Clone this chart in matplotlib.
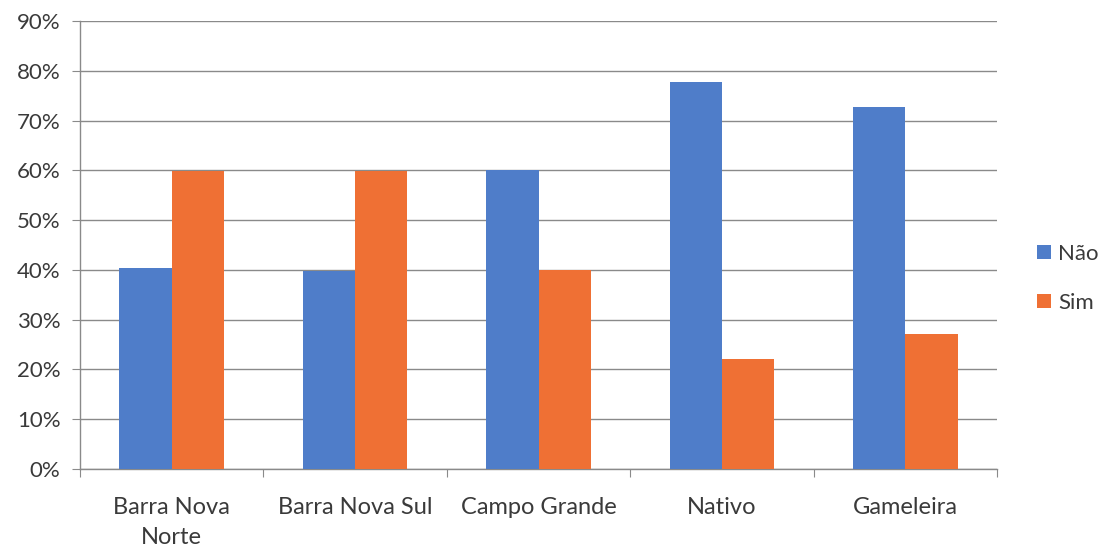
import matplotlib
matplotlib.use("Agg")
import matplotlib.pyplot as plt
import numpy as np
from matplotlib.ticker import FuncFormatter, FixedLocator

categories = ["Barra Nova\nNorte", "Barra Nova Sul", "Campo Grande", "Nativo", "Gameleira"]
nao = [40.3, 39.8, 60.0, 77.7, 72.8]
sim = [59.9, 59.8, 39.9, 22.0, 27.1]
series_names = ["Não", "Sim"]
yticks = [0, 10, 20, 30, 40, 50, 60, 70, 80, 90]

blue = "#4F7DC9"
orange = "#EF7034"
text_color = "#3a3a3a"
plt.rcParams['font.family'] = ['Lato', 'DejaVu Sans']

fig = plt.figure(figsize=(11.07, 5.48), dpi=100)
ax = fig.add_axes([80/1107, 1-469/548, (997-80)/1107, (469-21)/548])

x = np.arange(len(categories))
w = 0.285
ax.bar(x - w/2, nao, width=w, color=blue, label=series_names[0], zorder=3)
ax.bar(x + w/2, sim, width=w, color=orange, label=series_names[1], zorder=3)

ax.set_xlim(-0.5, len(categories) - 0.5)
ax.set_ylim(0, 90)
ax.set_yticks(yticks)
ax.yaxis.set_major_formatter(FuncFormatter(lambda v, p: f"{int(v)}%"))
ax.grid(axis='y', color='#8a8a8a', linewidth=1.0, zorder=0)

ax.xaxis.set_major_locator(FixedLocator(np.arange(-0.5, len(categories), 1.0)))
ax.xaxis.set_major_formatter(FuncFormatter(lambda v, p: ""))
ax.xaxis.set_minor_locator(FixedLocator(x))
ax.set_xticklabels(categories, minor=True, linespacing=1.55)
ax.tick_params(axis='x', which='minor', length=0, pad=20, labelsize=17, labelcolor=text_color)
ax.tick_params(axis='x', which='major', length=6, color='#8a8a8a', direction='out')
ax.tick_params(axis='y', length=6, color='#8a8a8a', labelsize=16, labelcolor=text_color, pad=8)

for s in ['top', 'right']:
    ax.spines[s].set_visible(False)
for s in ['left', 'bottom']:
    ax.spines[s].set_color('#8a8a8a')
    ax.spines[s].set_linewidth(1.0)

leg = ax.legend(loc='center left', bbox_to_anchor=(1.022, 0.426), frameon=False,
                fontsize=16, handlelength=0.6, handleheight=0.6, labelspacing=1.3,
                handletextpad=0.35)
for t in leg.get_texts():
    t.set_color(text_color)

fig.savefig("out.png", dpi=100)
